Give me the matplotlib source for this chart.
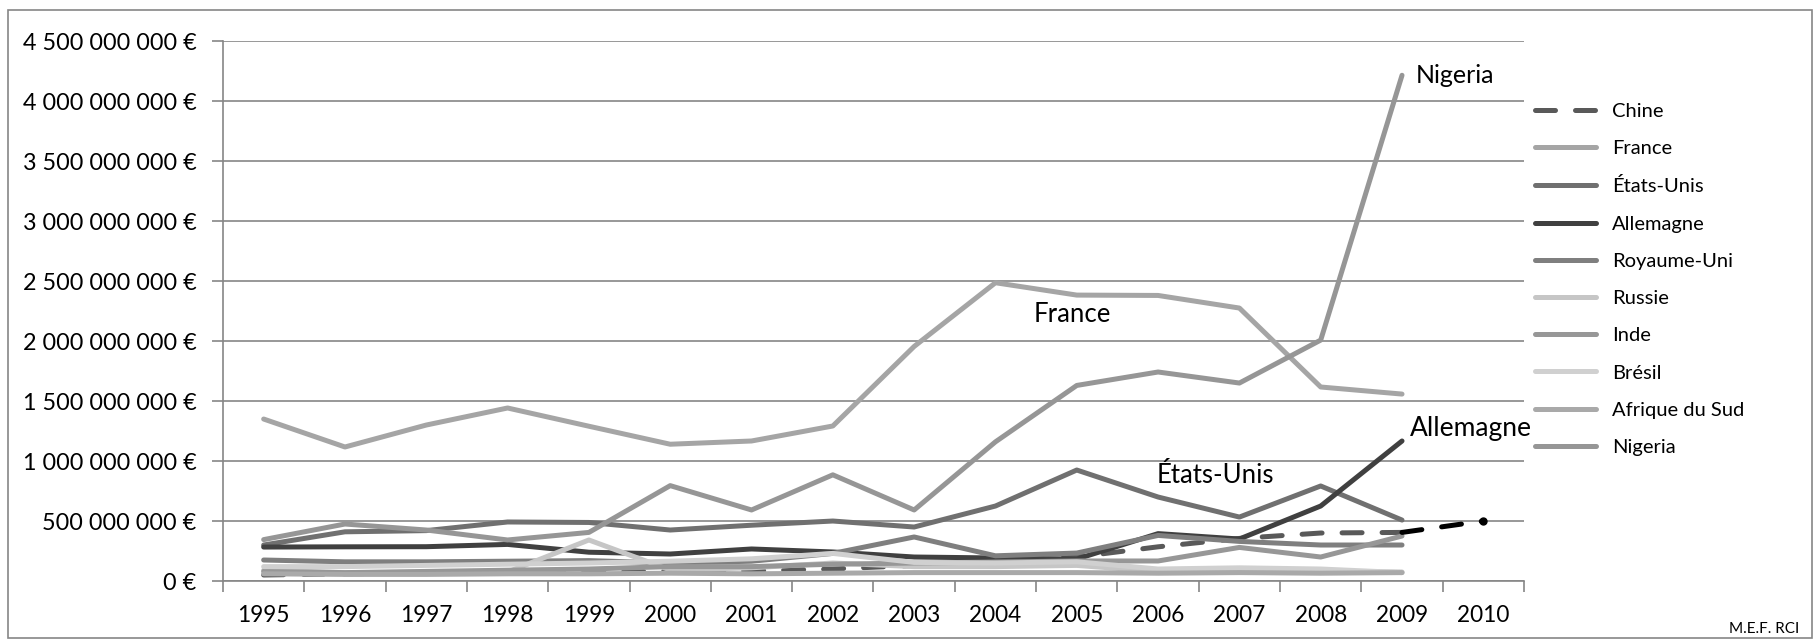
import matplotlib
matplotlib.use("Agg")
import matplotlib.pyplot as plt
from matplotlib.patches import Rectangle
from matplotlib.ticker import FuncFormatter, FixedLocator

plt.rcParams["font.family"] = ["Lato", "DejaVu Sans"]

# valeurs en millions d'euros, 1995 -> 2009
annees = list(range(1995, 2010))
chine = [50, 60, 65, 70, 75, 80, 85, 100, 130, 160, 200, 285, 355, 400, 405]
france = [1350, 1117, 1300, 1442, 1290, 1140, 1167, 1292, 1955, 2486, 2383, 2380, 2275, 1617, 1558]
etats_unis = [300, 410, 420, 492, 488, 425, 465, 500, 450, 625, 925, 700, 533, 792, 508]
allemagne = [283, 285, 286, 305, 240, 225, 267, 242, 200, 192, 183, 395, 350, 625, 1167]
royaume_uni = [175, 160, 160, 165, 170, 150, 165, 230, 367, 210, 233, 380, 330, 300, 300]
russie = [90, 70, 72, 75, 342, 92, 110, 150, 120, 120, 130, 80, 90, 80, 75]
inde = [80, 70, 80, 90, 100, 120, 120, 140, 150, 158, 167, 167, 280, 200, 375]
bresil = [120, 120, 130, 140, 150, 165, 185, 230, 155, 150, 160, 100, 110, 100, 70]
afrique_du_sud = [60, 55, 55, 60, 60, 65, 60, 65, 70, 70, 70, 65, 70, 65, 70]
nigeria = [345, 475, 425, 342, 405, 795, 592, 885, 592, 1160, 1630, 1742, 1650, 2008, 4215]

# prolongement Chine 2009 -> 2010
annees_prev = [2009, 2010]
chine_prev = [405, 500]

axe_annees = list(range(1995, 2011))

series = [
    ("Chine", chine, "#595959"),
    ("France", france, "#a5a5a5"),
    ("États-Unis", etats_unis, "#707070"),
    ("Allemagne", allemagne, "#404040"),
    ("Royaume-Uni", royaume_uni, "#7f7f7f"),
    ("Russie", russie, "#c6c6c6"),
    ("Inde", inde, "#979797"),
    ("Brésil", bresil, "#d0d0d0"),
    ("Afrique du Sud", afrique_du_sud, "#a9a9a9"),
    ("Nigeria", nigeria, "#969696"),
]

fig = plt.figure(figsize=(18.16, 6.42), dpi=100)
ax = fig.add_axes([0.1228, 0.095, 0.8392 - 0.1228, 0.936 - 0.095])

gris = "#868686"
for nom, vals, coul in series:
    y = [v * 1e6 for v in vals]
    if nom == "Chine":
        ax.plot(annees, y, color=coul, lw=3.6, ls=(0, (4, 4)),
                dash_capstyle="round", label=nom, zorder=3)
    else:
        ax.plot(annees, y, color=coul, lw=3.6, label=nom,
                solid_capstyle="round", zorder=3)

ax.plot(annees_prev, [v * 1e6 for v in chine_prev], color="black", lw=3.6,
        ls=(0, (4, 4)), dash_capstyle="round", zorder=4)
ax.plot(annees_prev[-1:], [chine_prev[-1] * 1e6], "o", color="black", ms=5, zorder=4)

ax.set_xlim(axe_annees[0] - 0.5, axe_annees[-1] + 0.5)
ax.set_ylim(0, 4.5e9)
ax.set_yticks([i * 5e8 for i in range(10)])
ax.yaxis.set_major_formatter(FuncFormatter(
    lambda v, p: "{:,.0f} €".format(v).replace(",", " ")))
ax.grid(axis="y", color=gris, lw=1.2)
ax.set_axisbelow(True)

ax.xaxis.set_major_locator(FixedLocator([a - 0.5 for a in axe_annees] + [axe_annees[-1] + 0.5]))
ax.xaxis.set_minor_locator(FixedLocator(axe_annees))
ax.set_xticklabels([], minor=False)
ax.set_xticklabels([str(a) for a in axe_annees], minor=True)
ax.tick_params(axis="x", which="major", length=8, color=gris, width=1.2)
ax.tick_params(axis="x", which="minor", length=0, pad=17, labelsize=16.3)
ax.tick_params(axis="y", length=8, color=gris, width=1.2, labelsize=16.8, pad=11)

for s in ["top", "right"]:
    ax.spines[s].set_visible(False)
for s in ["left", "bottom"]:
    ax.spines[s].set_color(gris)
    ax.spines[s].set_linewidth(1.2)

# étiquettes sur les courbes
ax.text(2009.17, 4.21e9, "Nigeria", fontsize=18, va="center", ha="left")
ax.text(2004.95, 2.22e9, "France", fontsize=18.5, va="center", ha="center")
ax.text(2006.7, 0.88e9, "États-Unis", fontsize=18.5, va="center", ha="center")
ax.text(2009.1, 1.27e9, "Allemagne", fontsize=19, va="center", ha="left")

fig.legend(loc="upper left", bbox_to_anchor=(0.8355, 0.868), frameon=False,
           fontsize=14.5, handlelength=3.0, handletextpad=0.8, labelspacing=1.0)

fig.text(0.991, 0.02, "M.E.F. RCI", fontsize=11, ha="right", va="center")

fig.patches.append(Rectangle((8 / 1816, 4 / 642), 1804 / 1816, 628 / 642,
                             transform=fig.transFigure,
                             fill=False, edgecolor=gris, lw=1.2))

fig.savefig("out.png", dpi=100)
